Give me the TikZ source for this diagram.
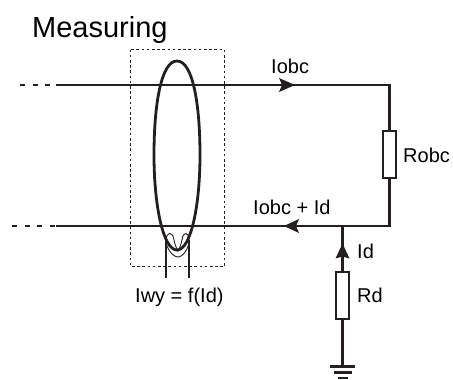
\documentclass[tikz,border=0pt]{standalone}
\usepackage{fontspec}
\setmainfont{Liberation Sans}
\usetikzlibrary{arrows.meta,calc}
\definecolor{ink}{HTML}{231F20}
\tikzset{
  x=1pt,y=-1pt,
  wire/.style={draw=ink,line width=2.3pt},
  thin wire/.style={draw=ink,line width=1.3pt},
  res/.style={draw=ink,line width=2.2pt,fill=white,minimum width=13pt,minimum height=47pt,inner sep=0pt,outer sep=0pt},
  lab/.style={font=\fontsize{20}{22}\selectfont,text=black,inner sep=0pt},
  dashwire/.style={draw=ink,line width=2.3pt,dash pattern=on 5pt off 7.5pt},
  box/.style={draw=ink,line width=1.3pt,dash pattern=on 2.6pt off 2.6pt},
  flow/.style={fill=ink,draw=none}
}
\begin{document}
\begin{tikzpicture}
\useasboundingbox (0,0) rectangle (453,380);
\node[anchor=base west,font=\fontsize{29}{32}\selectfont,inner sep=0pt] (title) at (32,37) {Measuring};
% dotted box
\draw[box] (130.5,49.5) rectangle (224.5,266.5);
% coordinates
\coordinate (tl) at (20,85);
\coordinate (ts) at (56,85);
\coordinate (tr) at (389.5,85);
\coordinate (bl) at (12,226);
\coordinate (bs) at (56,226);
\coordinate (br) at (389.5,226);
\coordinate (j) at (342.5,226);
\coordinate (g) at (342.5,366);
% wires
\draw[dashwire] (tl) -- (ts);
\draw[dashwire] (bl) -- (bs);
\draw[wire,line join=miter] (ts) -- (tr) -- (br) -- (bs);
\node[res] (robc) at (389.5,154.5) {};
\draw[wire] (j) -- (342.5,272);
\node[res] (rd) at (342.5,295.5) {};
\draw[wire] (rd.south) -- (g);
% arrowheads
\fill[flow] (295,85) -- (279,78) -- (282,85) -- (279,92) -- cycle;
\fill[flow] (284,226) -- (299,219) -- (296,226) -- (299,233) -- cycle;
\fill[flow] (342.5,243.5) -- (335.5,258.5) -- (342.5,256.5) -- (349.5,258.5) -- cycle;
% ground
\draw[wire] (330,366.5) -- (355,366.5);
\draw[wire] (333.5,372.5) -- (351.5,372.5);
\draw[wire] (337.5,378) -- (347.5,378);
% secondary loops
\coordinate (la) at (166,240); \coordinate (lb) at (189,240);
\draw[draw=ink,line width=0.9pt] (166,241) .. controls (166,231) and (173,231) .. (174,240)
  .. controls (175,246) and (178,251) .. (178,251)
  .. controls (178,251) and (181,246) .. (182,240)
  .. controls (183,231) and (189,231) .. (189,241)
  .. controls (189,248) and (183,257) .. (178,257)
  .. controls (173,257) and (166,248) .. (166,241) -- cycle;
\draw[thin wire] (la) -- (166,278);
\draw[thin wire] (lb) -- (189,278);
% coil
\draw[draw=ink,line width=2.8pt] (177,61) .. controls (161,61) and (154,105) .. (154,155)
  .. controls (154,205) and (163,250) .. (177,250)
  .. controls (191,250) and (200,205) .. (200,155)
  .. controls (200,105) and (193,61) .. (177,61) -- cycle;
% labels
\node[lab,anchor=base west] (l1) at (271,73) {Iobc};
\node[lab,anchor=base west] (l2) at (403,162) {Robc};
\node[lab,anchor=base west] (l3) at (253,214) {Iobc + Id};
\node[lab,anchor=base west] (l4) at (357,258) {Id};
\node[lab,anchor=base west] (l5) at (357,302) {Rd};
\node[lab,anchor=base west] (l6) at (135,302) {Iwy = f(Id)};
\end{tikzpicture}
\end{document}
